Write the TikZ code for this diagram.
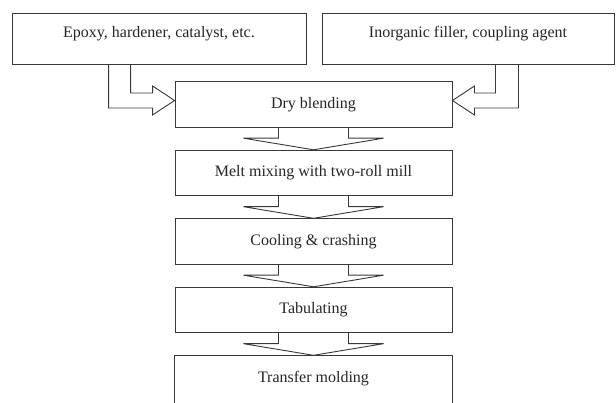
\documentclass[tikz,border=0pt]{standalone}
\usepackage{fontspec}
\setmainfont{Liberation Serif}
\usetikzlibrary{calc}
\begin{document}
\begin{tikzpicture}[x=1pt,y=-1pt,
  line width=0.9pt,
  box/.style={draw=black!78, fill=white, inner sep=0pt, text=black!85,
    font=\fontsize{16}{19}\selectfont, minimum width=277pt, minimum height=45.5pt},
  topbox/.style={box, minimum height=51pt, text height=11pt, text depth=13pt},
  arr/.style={draw=black!78, line join=miter}]
\useasboundingbox (0,0) rectangle (616,403);
\node[topbox, minimum width=294pt] (epoxy) at (159,38.5) {Epoxy, hardener, catalyst, etc.};
\node[topbox, minimum width=292pt] (filler) at (468,38.5) {Inorganic filler, coupling agent};
\node[box] (dry) at (313.5,104.5) {Dry blending};
\node[box] (melt) at (313.5,173) {Melt mixing with two-roll mill};
\node[box] (cool) at (313.5,241.5) {Cooling \& crashing};
\node[box] (tab) at (313.5,310) {Tabulating};
\node[box, draw=none, fill=none] (transfer) at (313.5,378.5) {Transfer molding};
\draw[arr] ($(transfer.south west)+(0,10)$) -- (transfer.north west) -- (transfer.north east) -- ($(transfer.south east)+(0,10)$);
% side arrows
\draw[arr] ($(epoxy.south west)+(97,0)$) |- ($(dry.west)+(-22,3.5)$) -- ($(dry.west)+(-22,10.5)$)
  -- ($(dry.west)+(0,-4)$) -- ($(dry.west)+(-22,-18.5)$) -- ($(dry.west)+(-22,-11.5)$)
  -| ($(epoxy.south west)+(119,0)$);
\draw[arr] ($(filler.south east)+(-96,0)$) |- ($(dry.east)+(22,3.5)$) -- ($(dry.east)+(22,10.5)$)
  -- ($(dry.east)+(0,-4)$) -- ($(dry.east)+(22,-18.5)$) -- ($(dry.east)+(22,-11.5)$)
  -| ($(filler.south east)+(-119,0)$);
% down arrows
\foreach \a/\b in {dry/melt, melt/cool, cool/tab, tab/transfer}{
  \draw[arr] ($(\a.south)+(-35,0)$) -- ++(0,10.5) -- ++(-35,0) -- (\b.north)
    -- ($(\a.south)+(70,10.5)$) -- ++(-35,0) -- ++(0,-10.5);
}
\end{tikzpicture}
\end{document}
